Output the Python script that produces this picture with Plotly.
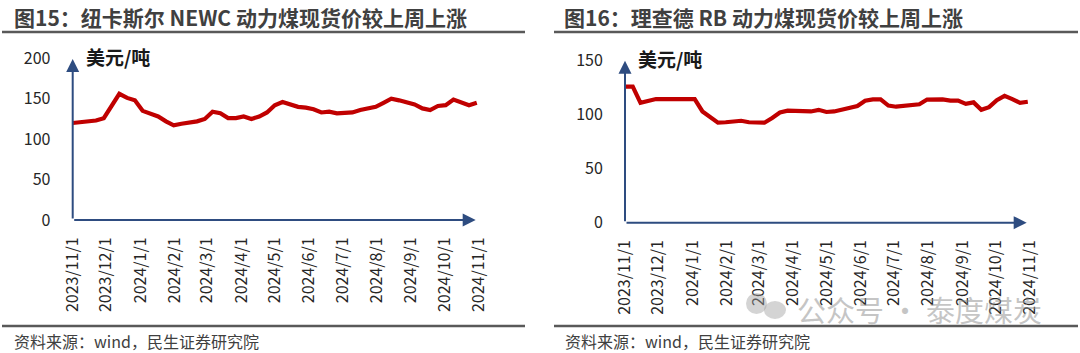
import plotly.graph_objects as go
import pandas as pd

W, H = 1080, 353

# ---------------- data ----------------
week_dates = pd.date_range("2023-11-01", periods=53, freq="7D")

newc_price = [120, 121, 123, 123, 126, 141, 156, 151, 148, 135, 132, 128, 122, 117, 119,
              120, 122, 125, 134, 132, 126, 126, 128, 125, 128, 133, 142, 146, 143, 140,
              139, 137, 133, 134, 132, 133, 133, 136, 138, 140, 145, 150, 148, 146, 143,
              138, 136, 141, 142, 149, 146, 142, 145]

rb_price = [126, 126, 111, 113, 114.5, 114.5, 114.5, 114.5, 114.5, 114.5, 103, 98, 92.6,
            93, 93.5, 94.4, 93, 93, 92.6, 97, 102, 103.7, 103.3, 102.8, 103, 104.5, 102.5,
            103, 104.7, 107, 108, 113, 114.2, 114.2, 108.5, 107.4, 108, 109, 109.6, 114,
            114.5, 114.2, 113, 113, 110, 111.4, 104.5, 107, 113.5, 117.5, 114.5, 111, 112]

month_ticks = ["2023-11-01", "2023-12-01", "2024-01-01", "2024-02-01", "2024-03-01",
               "2024-04-01", "2024-05-01", "2024-06-01", "2024-07-01", "2024-08-01",
               "2024-09-01", "2024-10-01", "2024-11-01"]
month_labels = ["2023/11/1", "2023/12/1", "2024/1/1", "2024/2/1", "2024/3/1", "2024/4/1",
                "2024/5/1", "2024/6/1", "2024/7/1", "2024/8/1", "2024/9/1", "2024/10/1",
                "2024/11/1"]

left_yticks = [0, 50, 100, 150, 200]
right_yticks = [0, 50, 100, 150]

title_left = "图15：纽卡斯尔 NEWC 动力煤现货价较上周上涨"
title_right = "图16：理查德 RB 动力煤现货价较上周上涨"
unit_label = "美元/吨"
source_text = "资料来源：wind，民生证券研究院"
watermark = "公众号 · 泰度煤炭"

# ---------------- style ----------------
FONT = "Noto Sans CJK SC"
RED = "#C00000"
NAVY = "#2E4C80"
GREY = "#595959"


def px(x):
    return x / W


def py(y):
    return 1 - y / H


fig = go.Figure()
fig.add_trace(go.Scatter(x=week_dates, y=newc_price, mode="lines",
                         line=dict(color=RED, width=4.2), xaxis="x", yaxis="y",
                         showlegend=False, hoverinfo="skip"))
fig.add_trace(go.Scatter(x=week_dates, y=rb_price, mode="lines",
                         line=dict(color=RED, width=4.2), xaxis="x2", yaxis="y2",
                         showlegend=False, hoverinfo="skip"))

xcommon = dict(type="date", range=["2023-11-01", "2024-11-01"], tickmode="array",
               tickvals=month_ticks, ticktext=month_labels, tickangle=-90,
               showgrid=False, zeroline=False, showline=False, automargin=False,
               ticks="outside", ticklen=10, tickcolor="rgba(0,0,0,0)",
               tickfont=dict(family=FONT, size=16, color="#262626"))
ycommon = dict(showgrid=False, zeroline=False, showline=False, automargin=False,
               ticks="outside", ticklen=18, tickcolor="rgba(0,0,0,0)",
               tickfont=dict(family=FONT, size=16, color="#262626"))

fig.update_layout(
    width=W, height=H, margin=dict(l=0, r=0, t=0, b=0, autoexpand=False),
    paper_bgcolor="white", plot_bgcolor="white",
    xaxis=dict(domain=[px(72.7), px(479)], anchor="y", **xcommon),
    yaxis=dict(domain=[py(220), py(58.3)], range=[0, 200], tickvals=left_yticks,
               anchor="x", **ycommon),
    xaxis2=dict(domain=[px(625), px(1030)], anchor="y2", **xcommon),
    yaxis2=dict(domain=[py(222.7), py(60.7)], range=[0, 150], tickvals=right_yticks,
                anchor="x2", **ycommon),
)

ann = []
# axis arrows
for xr, yr, ytop in (("x", "y", 199), ("x2", "y2", 150)):
    ann.append(dict(x="2024-10-29", y=0, ax="2023-11-01", ay=0, xref=xr, yref=yr,
                    axref=xr, ayref=yr, text="", showarrow=True, arrowhead=2,
                    arrowsize=1.3, arrowwidth=2, arrowcolor=NAVY))
    ann.append(dict(x="2023-11-01", y=ytop, ax="2023-11-01", ay=0, xref=xr, yref=yr,
                    axref=xr, ayref=yr, text="", showarrow=True, arrowhead=2,
                    arrowsize=1.3, arrowwidth=2, arrowcolor=NAVY))

# titles
ann.append(dict(x=px(12), y=py(17), xref="paper", yref="paper", xanchor="left",
                yanchor="middle", showarrow=False, text="<b>%s</b>" % title_left,
                font=dict(family=FONT, size=21, color="#404040")))
ann.append(dict(x=px(562), y=py(17), xref="paper", yref="paper", xanchor="left",
                yanchor="middle", showarrow=False, text="<b>%s</b>" % title_right,
                font=dict(family=FONT, size=21, color="#404040")))
# unit labels
ann.append(dict(x=px(84), y=py(57), xref="paper", yref="paper", xanchor="left",
                yanchor="middle", showarrow=False, text="<b>%s</b>" % unit_label,
                font=dict(family=FONT, size=19, color="#1a1a1a")))
ann.append(dict(x=px(636), y=py(58), xref="paper", yref="paper", xanchor="left",
                yanchor="middle", showarrow=False, text="<b>%s</b>" % unit_label,
                font=dict(family=FONT, size=19, color="#1a1a1a")))
# sources
ann.append(dict(x=px(12), y=py(341), xref="paper", yref="paper", xanchor="left",
                yanchor="middle", showarrow=False, text=source_text,
                font=dict(family=FONT, size=16, color="#404040")))
ann.append(dict(x=px(563), y=py(341), xref="paper", yref="paper", xanchor="left",
                yanchor="middle", showarrow=False, text=source_text,
                font=dict(family=FONT, size=16, color="#404040")))
# watermark
ann.append(dict(x=px(795), y=py(309), xref="paper", yref="paper", xanchor="left",
                yanchor="middle", showarrow=False, text=watermark,
                font=dict(family=FONT, size=29, color="rgba(140,140,140,0.5)")))
fig.update_layout(annotations=ann)

shapes = []
for x0, x1 in ((2, 525), (554, 1078)):
    for yy in (32, 326):
        shapes.append(dict(type="line", xref="paper", yref="paper", x0=px(x0), x1=px(x1),
                           y0=py(yy), y1=py(yy), line=dict(color=GREY, width=2.5)))
# watermark icon bubbles
shapes.append(dict(type="circle", xref="paper", yref="paper", x0=px(746), x1=px(767),
                   y0=py(314), y1=py(293), fillcolor="rgba(160,160,160,0.45)",
                   line=dict(width=0)))
shapes.append(dict(type="circle", xref="paper", yref="paper", x0=px(764), x1=px(786),
                   y0=py(319), y1=py(301), fillcolor="rgba(160,160,160,0.45)",
                   line=dict(width=0)))
fig.update_layout(shapes=shapes)

fig.write_html("out.html")
